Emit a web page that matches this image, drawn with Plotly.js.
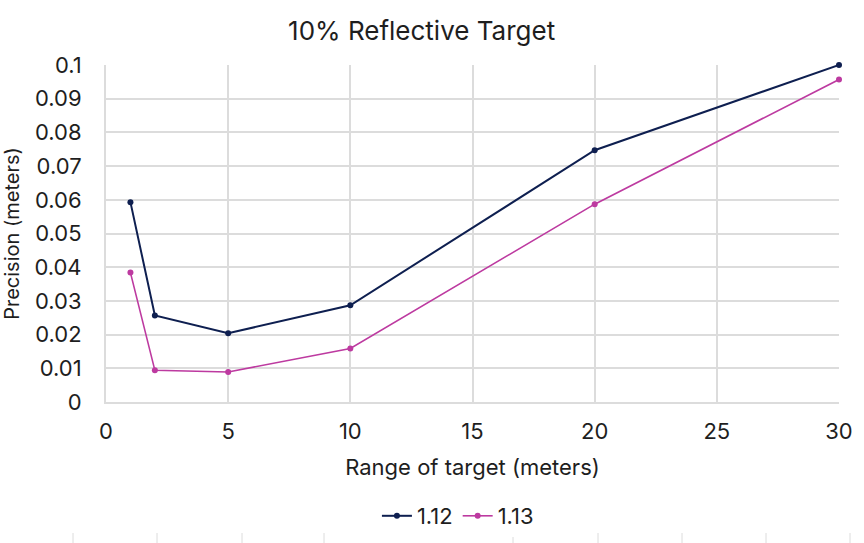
<!DOCTYPE html>
<html>
<head>
<meta charset="utf-8">
<script src="https://cdn.plot.ly/plotly-3.0.1.min.js"></script>
<style>html,body{margin:0;padding:0;background:#fff;}#chart{width:864px;height:543px;}</style>
</head>
<body>
<div id="chart"></div>
<script>
const rangeMeters = [1, 2, 5, 10, 20, 30];
const series112 = [0.0593, 0.0257, 0.0204, 0.0287, 0.0747, 0.1000];
const series113 = [0.0384, 0.0094, 0.0089, 0.0159, 0.0587, 0.0957];
const seriesNames = ['1.12', '1.13'];
const yTickVals = [0, 0.01, 0.02, 0.03, 0.04, 0.05, 0.06, 0.07, 0.08, 0.09, 0.1];
const yTickText = ['0', '0.01', '0.02', '0.03', '0.04', '0.05', '0.06', '0.07', '0.08', '0.09', '0.1'];
const xTickVals = [0, 5, 10, 15, 20, 25, 30];

const W = 864, H = 543;
const margin = {l: 106, r: 25, t: 65, b: 141, pad: 0};
const FONT = 'Inter, "Open Sans", sans-serif';
const GRID = '#dcdcdc';
const TXT = '#1e1e1e';

// decorative cut-off table ticks at the very bottom (pixel positions of the picture)
const bottomTickPx = [73, 157, 242, 324, 513, 598, 682, 766, 850];
const pw = W - margin.l - margin.r, ph = H - margin.t - margin.b;
const shapes = bottomTickPx.map(px => ({
  type: 'line', xref: 'paper', yref: 'paper',
  x0: (px - margin.l) / pw, x1: (px - margin.l) / pw,
  y0: -(533 - (H - margin.b)) / ph, y1: -(543 - (H - margin.b)) / ph,
  line: {color: GRID, width: 1}
}));

const traces = [
  {x: rangeMeters, y: series112, name: seriesNames[0], type: 'scatter', mode: 'lines+markers', cliponaxis: false,
   line: {color: '#0e1f50', width: 2}, marker: {color: '#0e1f50', size: 6}},
  {x: rangeMeters, y: series113, name: seriesNames[1], type: 'scatter', mode: 'lines+markers', cliponaxis: false,
   line: {color: '#bd3aa0', width: 1.6}, marker: {color: '#bd3aa0', size: 6}}
];

const layout = {
  width: W, height: H, margin: margin,
  paper_bgcolor: '#fff', plot_bgcolor: '#fff',
  font: {family: FONT, color: TXT, size: 22},
  title: {text: '10% Reflective Target', font: {family: FONT, size: 26, color: TXT},
          x: 0.488, xanchor: 'center', y: 0.943, yanchor: 'middle', yref: 'container'},
  xaxis: {
    range: [0, 30], tickvals: xTickVals, showgrid: true, gridcolor: GRID, gridwidth: 2,
    showline: true, linecolor: GRID, linewidth: 2, zeroline: false, automargin: false,
    ticks: 'outside', ticklen: 9, tickcolor: 'rgba(0,0,0,0)',
    tickfont: {size: 22, family: FONT, color: TXT},
    title: {text: 'Range of target (meters)', font: {size: 22, family: FONT, color: TXT}, standoff: 16}
  },
  yaxis: {
    range: [0, 0.1], tickvals: yTickVals, ticktext: yTickText, showgrid: true, gridcolor: GRID, gridwidth: 2,
    showline: true, linecolor: GRID, linewidth: 2, zeroline: false, automargin: false,
    ticks: 'outside', ticklen: 18, tickcolor: 'rgba(0,0,0,0)',
    tickfont: {size: 22, family: FONT, color: TXT},
    title: {text: 'Precision (meters)', font: {size: 20, family: FONT, color: TXT}, standoff: 10}
  },
  showlegend: true,
  legend: {orientation: 'h', xref: 'container', x: 0.53, xanchor: 'center',
           yref: 'container', y: 1 - 516 / 543, yanchor: 'middle',
           font: {size: 22, family: FONT, color: TXT}, itemwidth: 30, tracegroupgap: 0},
  shapes: shapes
};

Plotly.newPlot('chart', traces, layout, {displayModeBar: false, staticPlot: true});
</script>
</body>
</html>
